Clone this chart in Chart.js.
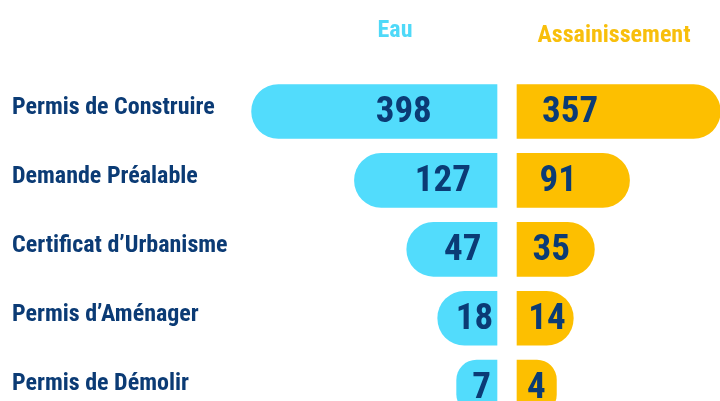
<!DOCTYPE html>
<html>
<head>
<meta charset="utf-8">
<script src="https://cdn.jsdelivr.net/npm/chart.js@4.4.1/dist/chart.umd.min.js"></script>
<style>
  html, body { margin: 0; padding: 0; background: #ffffff; overflow: hidden; }
  #wrap { width: 720px; height: 440px; position: relative; }
</style>
</head>
<body>
<div id="wrap"><canvas id="c"></canvas></div>
<script>
// ---- data ----
const categories = ["Permis de Construire", "Demande Préalable", "Certificat d’Urbanisme", "Permis d’Aménager", "Permis de Démolir"];
const seriesNames = ["Eau", "Assainissement"];
const eauValues = [398, 127, 47, 18, 7];
const assainissementValues = [357, 91, 35, 14, 4];

// ---- styles ----
const FONT = "'Liberation Sans Narrow', 'Roboto Condensed', 'DejaVu Sans Condensed', 'Liberation Sans', sans-serif";
const NAVY = "#0b3b75";
const CYAN = "#52dcfc";
const YELLOW = "#fdbf00";
const CYAN_TITLE = "#4fd9f8";
const YELLOW_TITLE = "#f8bf0c";

// Geometry of the two half-axes (square-root length scale, as in the infographic)
const sideGeom = {
  xE: { basePx: 497, dir: -1, minLen: 9,  maxLen: 246, refValue: 400 },
  xA: { basePx: 517, dir:  1, minLen: 20, maxLen: 214, refValue: 400 }
};

class SqrtBarScale extends Chart.LinearScale {
  getPixelForValue(value) {
    const g = sideGeom[this.id];
    const v = Math.max(0, +value || 0);
    const len = v <= 0 ? 0 : g.minLen + (g.maxLen - g.minLen) * Math.sqrt(v / g.refValue);
    return g.basePx + g.dir * len;
  }
  getValueForPixel(px) {
    const g = sideGeom[this.id];
    const len = (px - g.basePx) * g.dir;
    if (len <= g.minLen) return 0;
    const r = (len - g.minLen) / (g.maxLen - g.minLen);
    return r * r * g.refValue;
  }
}
SqrtBarScale.id = 'sqrtbar';
SqrtBarScale.defaults = Chart.LinearScale.defaults;
Chart.register(SqrtBarScale);

const labelPlugin = {
  id: 'butterflyLabels',
  afterDatasetsDraw(chart) {
    const ctx = chart.ctx;
    ctx.save();
    // column titles
    ctx.font = "bold 24px " + FONT;
    ctx.textAlign = 'center';
    ctx.textBaseline = 'alphabetic';
    ctx.fillStyle = CYAN_TITLE;
    ctx.fillText(chart.data.datasets[0].label, sideGeom.xE.basePx - 102, 37);
    ctx.fillStyle = YELLOW_TITLE;
    ctx.fillText(chart.data.datasets[1].label, sideGeom.xA.basePx + 97, 42);

    // values inside bars
    ctx.font = "bold 37px " + FONT;
    ctx.fillStyle = NAVY;
    chart.data.datasets.forEach((ds, di) => {
      const meta = chart.getDatasetMeta(di);
      meta.data.forEach((bar, i) => {
        const len = Math.abs(bar.x - bar.base);
        const by = bar.y + 11;
        const txt = String(ds.data[i]);
        if (di === 0) {
          ctx.textAlign = 'center';
          ctx.fillText(txt, bar.base - 0.38 * len, by);
        } else {
          ctx.textAlign = 'left';
          ctx.fillText(txt, bar.base + Math.max(10, Math.min(25, 0.2 * len)), by);
        }
      });
    });
    ctx.restore();
  }
};

new Chart(document.getElementById('c'), {
  type: 'bar',
  data: {
    labels: categories,
    datasets: [
      {
        label: seriesNames[0],
        data: eauValues,
        xAxisID: 'xE',
        backgroundColor: CYAN,
        borderWidth: 0,
        borderRadius: 100,
        borderSkipped: 'start',
        barThickness: 54,
        clip: false,
        grouped: false
      },
      {
        label: seriesNames[1],
        data: assainissementValues,
        xAxisID: 'xA',
        backgroundColor: YELLOW,
        borderWidth: 0,
        borderRadius: 100,
        borderSkipped: 'start',
        barThickness: 54,
        clip: false,
        grouped: false
      }
    ]
  },
  options: {
    indexAxis: 'y',
    responsive: true,
    maintainAspectRatio: false,
    animation: false,
    events: [],
    layout: { padding: { left: 12, top: 77, bottom: 13, right: 0 } },
    plugins: { legend: { display: false }, tooltip: { enabled: false }, title: { display: false } },
    scales: {
      y: {
        type: 'category',
        offset: true,
        grid: { display: false },
        border: { display: false },
        ticks: {
          crossAlign: 'far',
          color: NAVY,
          font: { family: FONT, size: 24, weight: 'bold' },
          labelOffset: -3,
          padding: 4
        }
      },
      xE: { type: 'sqrtbar', axis: 'x', position: 'bottom', min: 0, max: 400, display: false },
      xA: { type: 'sqrtbar', axis: 'x', position: 'bottom', min: 0, max: 400, display: false }
    }
  },
  plugins: [labelPlugin]
});
</script>
</body>
</html>
